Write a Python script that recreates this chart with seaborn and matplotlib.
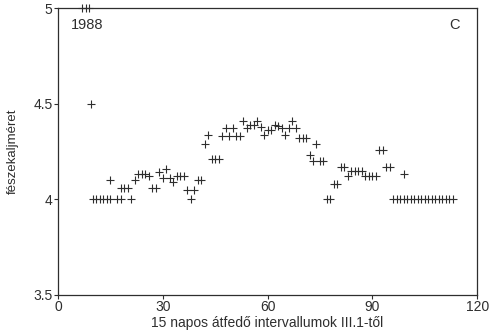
import matplotlib
matplotlib.use("Agg")
import matplotlib.pyplot as plt
import seaborn as sns
import pandas as pd

x_vals = [7, 8, 9,
          9.5,
          10, 11, 12, 13, 14, 15, 17, 18,
          15,
          18, 19, 20,
          21, 22,
          23, 24, 25, 26,
          27, 28, 29, 31, 30, 32, 33,
          34, 35, 36, 37, 39, 38, 40, 41,
          42, 43, 44, 45, 46,
          48, 50, 47, 49, 51, 52,
          53, 54, 55, 56, 57, 58, 59, 60, 61, 62, 63, 64, 65, 66, 67, 68,
          69, 70, 71, 72, 74, 73, 75, 76,
          77, 78, 79, 80, 81, 82, 83, 84, 85, 86, 87, 88, 89, 90, 91,
          92, 93, 94, 95, 99,
          96, 97, 98, 99, 100, 101, 102, 103, 104, 105, 106, 107, 108, 109, 110, 111, 112, 113]
y_vals = [5.0, 5.0, 5.0,
          4.5,
          4.0, 4.0, 4.0, 4.0, 4.0, 4.0, 4.0, 4.0,
          4.10,
          4.06, 4.06, 4.06,
          4.0, 4.10,
          4.13, 4.13, 4.13, 4.12,
          4.06, 4.06, 4.14, 4.16, 4.11, 4.11, 4.09,
          4.12, 4.12, 4.12, 4.05, 4.05, 4.0, 4.10, 4.10,
          4.29, 4.335, 4.21, 4.21, 4.21,
          4.37, 4.37, 4.33, 4.33, 4.33, 4.33,
          4.41, 4.37, 4.39, 4.39, 4.41, 4.38, 4.335, 4.36, 4.36, 4.39, 4.385, 4.375, 4.335, 4.37, 4.41, 4.37,
          4.32, 4.32, 4.32, 4.23, 4.29, 4.20, 4.20, 4.20,
          4.0, 4.0, 4.08, 4.08, 4.17, 4.17, 4.12, 4.15, 4.15, 4.15, 4.15, 4.12, 4.12, 4.12, 4.12,
          4.26, 4.26, 4.17, 4.17, 4.13,
          4.0, 4.0, 4.0, 4.0, 4.0, 4.0, 4.0, 4.0, 4.0, 4.0, 4.0, 4.0, 4.0, 4.0, 4.0, 4.0, 4.0, 4.0]

x_ticks = [0, 30, 60, 90, 120]
y_ticks = [3.5, 4, 4.5, 5]
y_tick_labels = ["3.5", "4", "4.5", "5"]

df = pd.DataFrame({"x": x_vals, "y": y_vals})

sns.set_style("ticks")
plt.rcParams["font.family"] = ["Liberation Sans", "DejaVu Sans"]

ink = "#2e2e2e"
fig = plt.figure(figsize=(4.96, 3.35), dpi=100)
ax = fig.add_axes([0.117, 0.12, 0.845, 0.856])

sns.scatterplot(data=df, x="x", y="y", marker="+", s=26, color=ink,
                linewidth=0.8, ax=ax, legend=False, clip_on=False)

ax.set_xlim(0, 120)
ax.set_ylim(3.5, 5)
ax.set_xticks(x_ticks)
ax.set_xticklabels([str(t) for t in x_ticks])
ax.set_yticks(y_ticks)
ax.set_yticklabels(y_tick_labels)
for s in ["top", "right", "left", "bottom"]:
    ax.spines[s].set_visible(True)
    ax.spines[s].set_color(ink)
    ax.spines[s].set_linewidth(0.9)
ax.tick_params(axis="both", direction="out", length=3, width=0.8, colors=ink,
               labelsize=10, pad=1)

ax.set_xlabel("15 napos átfedő intervallumok III.1-től", fontsize=10, color=ink, labelpad=1)
ax.set_ylabel("fészekaljméret", fontsize=9.5, color=ink, labelpad=10)

ax.text(0.03, 0.94, "1988", transform=ax.transAxes, fontsize=10.5, color=ink,
        ha="left", va="center")
ax.text(0.947, 0.94, "C", transform=ax.transAxes, fontsize=10.5, color=ink,
        ha="center", va="center")

fig.savefig("out.png", dpi=100)
